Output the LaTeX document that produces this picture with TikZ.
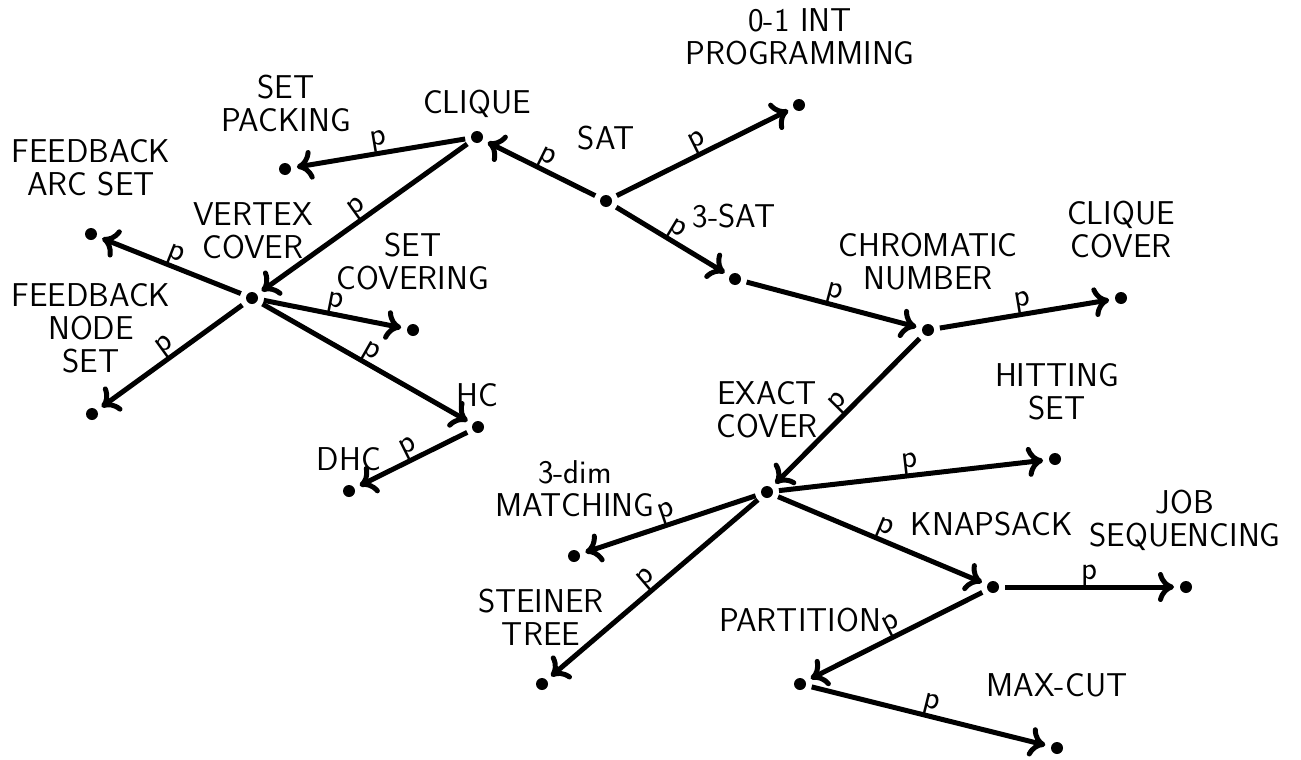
\documentclass[tikz,border=0pt]{standalone}
\usetikzlibrary{arrows.meta}
\begin{document}
\begin{tikzpicture}[x=0.5pt,y=-0.5pt,
  dot/.style={circle,fill=black,inner sep=0pt,minimum size=6pt,outer sep=3pt},
  lbl/.style={font=\sffamily\fontsize{16.5}{16.5}\selectfont,align=center,inner sep=0pt},
  redge/.style={line width=2.5pt,-{Computer Modern Rightarrow[length=8pt,width=15pt]}},
  pl/.style={sloped,above=2.5pt,inner sep=0pt,text depth=0pt,font=\sffamily\fontsize{16.5}{16.5}\selectfont}]
\useasboundingbox (0,0) rectangle (1301,760);
% dots
\node[dot] (sat) at (606,201) {};
\node[dot] (clique) at (477,137) {};
\node[dot] (ilp) at (799,105) {};
\node[dot] (tsat) at (735,279) {};
\node[dot] (chrom) at (928,330) {};
\node[dot] (ccover) at (1121,298) {};
\node[dot] (spack) at (285,169) {};
\node[dot] (vc) at (252,298) {};
\node[dot] (fas) at (91,234) {};
\node[dot] (fns) at (92,414) {};
\node[dot] (scov) at (413,330) {};
\node[dot] (hc) at (478,427) {};
\node[dot] (dhc) at (349,491) {};
\node[dot] (ecover) at (767,492) {};
\node[dot] (hset) at (1055,459) {};
\node[dot] (tdm) at (574,556) {};
\node[dot] (stein) at (542,684) {};
\node[dot] (knap) at (993,587) {};
\node[dot] (job) at (1186,587) {};
\node[dot] (part) at (800,684) {};
\node[dot] (mcut) at (1057,748) {};
% labels
\node[lbl] (lsat) at (606,138) {SAT};
\node[lbl] (lclique) at (477,104) {CLIQUE};
\node[lbl] (lilp) at (800,37) {0-1 INT\\PROGRAMMING};
\node[lbl] (ltsat) at (734,216) {3-SAT};
\node[lbl] (lchrom) at (928,262) {CHROMATIC\\NUMBER};
\node[lbl] (lccover) at (1121,230) {CLIQUE\\COVER};
\node[lbl] (lspack) at (286,103) {SET\\PACKING};
\node[lbl] (lvc) at (253,231) {VERTEX\\COVER};
\node[lbl] (lfas) at (91,168) {FEEDBACK\\ARC SET};
\node[lbl] (lfns) at (91,328) {FEEDBACK\\NODE\\SET};
\node[lbl] (lscov) at (413,262) {SET\\COVERING};
\node[lbl] (lhc) at (477,395) {HC};
\node[lbl] (ldhc) at (349,459) {DHC};
\node[lbl] (lecover) at (767,410) {EXACT\\COVER};
\node[lbl] (lhset) at (1057,392) {HITTING\\SET};
\node[lbl] (ltdm) at (575,489) {3-dim\\MATCHING};
\node[lbl] (lstein) at (541,617) {STEINER\\TREE};
\node[lbl] (lknap) at (992,524) {KNAPSACK};
\node[lbl] (ljob) at (1185,520) {JOB\\SEQUENCING};
\node[lbl] (lpart) at (800,620) {PARTITION};
\node[lbl] (lmcut) at (1057,685) {MAX-CUT};
% edges
\draw[redge] (sat) -- node[pl]{p} (clique);
\draw[redge] (sat) -- node[pl]{p} (ilp);
\draw[redge] (sat) -- node[pl]{p} (tsat);
\draw[redge] (tsat) -- node[pl]{p} (chrom);
\draw[redge] (chrom) -- node[pl]{p} (ccover);
\draw[redge] (chrom) -- node[pl]{p} (ecover);
\draw[redge] (clique) -- node[pl]{p} (spack);
\draw[redge] (clique) -- node[pl]{p} (vc);
\draw[redge] (vc) -- node[pl]{p} (fas);
\draw[redge] (vc) -- node[pl]{p} (fns);
\draw[redge] (vc) -- node[pl]{p} (scov);
\draw[redge] (vc) -- node[pl]{p} (hc);
\draw[redge] (hc) -- node[pl]{p} (dhc);
\draw[redge] (ecover) -- node[pl]{p} (hset);
\draw[redge] (ecover) -- node[pl]{p} (tdm);
\draw[redge] (ecover) -- node[pl]{p} (stein);
\draw[redge] (ecover) -- node[pl]{p} (knap);
\draw[redge] (knap) -- node[pl]{p} (job);
\draw[redge] (knap) -- node[pl]{p} (part);
\draw[redge] (part) -- node[pl]{p} (mcut);
\end{tikzpicture}
\end{document}
